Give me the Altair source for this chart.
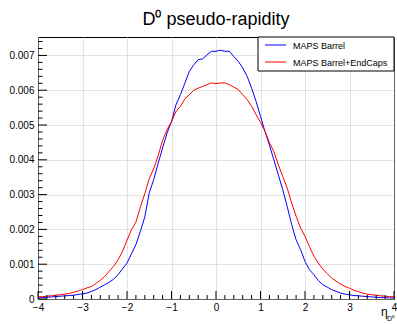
import altair as alt
import pandas as pd

# bin centres of the pseudo-rapidity histogram
eta = [round(-4 + 0.1 * i, 1) for i in range(81)]

barrel = [
    0.00003, 0.00004, 0.00005, 0.00006, 0.00007, 0.00008, 0.00009, 0.00010, 0.00011, 0.00013,
    0.00015, 0.00017, 0.00022, 0.00027, 0.00034, 0.00041, 0.00048, 0.00057, 0.00070, 0.00087,
    0.00103, 0.00130, 0.00156, 0.00194, 0.00236, 0.00305, 0.00343, 0.00390, 0.00434, 0.00477,
    0.00510, 0.00558, 0.00587, 0.00620, 0.00654, 0.00673, 0.00688, 0.00690, 0.00702, 0.00712,
    0.00712, 0.00715, 0.00712, 0.00712, 0.00697, 0.00683, 0.00664, 0.00640, 0.00606, 0.00568,
    0.00525, 0.00482, 0.00443, 0.00400, 0.00357, 0.00314, 0.00266, 0.00214, 0.00170, 0.00142,
    0.00108, 0.00084, 0.00070, 0.00053, 0.00041, 0.00034, 0.00027, 0.00022, 0.00017, 0.00014,
    0.00012, 0.00010, 0.00009, 0.00008, 0.00007, 0.00006, 0.00005, 0.00004, 0.00004, 0.00003,
    0.00003,
]

barrel_endcaps = [
    0.00006, 0.00007, 0.00008, 0.00009, 0.00011, 0.00012, 0.00014, 0.00016, 0.00019, 0.00023,
    0.00027, 0.00032, 0.00036, 0.00044, 0.00054, 0.00065, 0.00080, 0.00094, 0.00113, 0.00137,
    0.00169, 0.00199, 0.00221, 0.00264, 0.00303, 0.00346, 0.00374, 0.00412, 0.00456, 0.00487,
    0.00510, 0.00539, 0.00554, 0.00575, 0.00587, 0.00600, 0.00606, 0.00611, 0.00616, 0.00621,
    0.00619, 0.00621, 0.00621, 0.00616, 0.00609, 0.00602, 0.00587, 0.00573, 0.00554, 0.00530,
    0.00508, 0.00482, 0.00450, 0.00424, 0.00386, 0.00352, 0.00319, 0.00276, 0.00238, 0.00204,
    0.00180, 0.00151, 0.00123, 0.00103, 0.00086, 0.00073, 0.00060, 0.00051, 0.00043, 0.00036,
    0.00031, 0.00025, 0.00021, 0.00017, 0.00014, 0.00012, 0.00011, 0.00009, 0.00008, 0.00007,
    0.00006,
]

series_names = ["MAPS Barrel", "MAPS Barrel+EndCaps"]
series_colors = ["#0000ff", "#ff0000"]

x_major = [-4, -3, -2, -1, 0, 1, 2, 3, 4]
x_minor = [round(-4 + 0.2 * i, 1) for i in range(41) if i % 5 != 0]
y_major = [0, 0.001, 0.002, 0.003, 0.004, 0.005, 0.006, 0.007]
y_minor = [round(0.0002 * i, 4) for i in range(1, 38) if i % 5 != 0]

W, H = 356, 262
FONT = "Liberation Sans"

df = pd.DataFrame({
    "eta": eta * 2,
    "val": barrel + barrel_endcaps,
    "series": [series_names[0]] * len(eta) + [series_names[1]] * len(eta),
})

xs = alt.Scale(domain=[-4, 4], nice=False, zero=False)
ys = alt.Scale(domain=[0, 0.00753], nice=False, zero=False)

x_axis = alt.Axis(values=x_major, grid=True, ticks=False, tickSize=0, domain=False,
                  labelFlush=False, labelOverlap=False, labelPadding=3, labelFont=FONT,
                  labelFontSize=10, labelColor="#000", title=None, format="d")
y_axis = alt.Axis(values=y_major, grid=True, ticks=False, tickSize=0, domain=False,
                  labelOverlap=False, labelPadding=4, labelFont=FONT, labelFontSize=10,
                  labelColor="#000", title=None,
                  labelExpr="datum.value == 0 ? '0' : format(datum.value, '.3f')")

lines = alt.Chart(df).mark_line(strokeWidth=1, clip=True).encode(
    x=alt.X("eta:Q", scale=xs, axis=x_axis),
    y=alt.Y("val:Q", scale=ys, axis=y_axis),
    color=alt.Color("series:N", scale=alt.Scale(domain=series_names, range=series_colors),
                    legend=None),
)

xmaj = alt.Chart(pd.DataFrame({"t": x_major})).mark_rule(color="#000", strokeWidth=1).encode(
    x=alt.X("t:Q", scale=xs, axis=x_axis), y=alt.value(H), y2=alt.value(H - 8))
xmin = alt.Chart(pd.DataFrame({"t": x_minor})).mark_rule(color="#000", strokeWidth=1).encode(
    x=alt.X("t:Q", scale=xs, axis=x_axis), y=alt.value(H), y2=alt.value(H - 4))
ymaj = alt.Chart(pd.DataFrame({"t": y_major})).mark_rule(color="#000", strokeWidth=1).encode(
    y=alt.Y("t:Q", scale=ys, axis=y_axis), x=alt.value(0), x2=alt.value(9))
ymin = alt.Chart(pd.DataFrame({"t": y_minor})).mark_rule(color="#000", strokeWidth=1).encode(
    y=alt.Y("t:Q", scale=ys, axis=y_axis), x=alt.value(0), x2=alt.value(4.5))

# legend box
leg_box = alt.Chart(pd.DataFrame({"a": [0]})).mark_rect(
    fill="white", stroke="#000", strokeWidth=1).encode(
    x=alt.value(220), x2=alt.value(W), y=alt.value(0), y2=alt.value(34))
leg_line0 = alt.Chart(pd.DataFrame({"a": [0]})).mark_rule(color=series_colors[0], strokeWidth=1).encode(
    x=alt.value(227), x2=alt.value(248), y=alt.value(8))
leg_line1 = alt.Chart(pd.DataFrame({"a": [0]})).mark_rule(color=series_colors[1], strokeWidth=1).encode(
    x=alt.value(227), x2=alt.value(248), y=alt.value(25))
leg_text0 = alt.Chart(pd.DataFrame({"s": [series_names[0]]})).mark_text(
    font=FONT, fontSize=9, align="left", baseline="middle", color="#000").encode(
    x=alt.value(255), y=alt.value(8.5), text="s:N")
leg_text1 = alt.Chart(pd.DataFrame({"s": [series_names[1]]})).mark_text(
    font=FONT, fontSize=9, align="left", baseline="middle", color="#000").encode(
    x=alt.value(255), y=alt.value(25.5), text="s:N")

# x-axis title eta_{D0}
xt1 = alt.Chart(pd.DataFrame({"s": ["η"]})).mark_text(
    font=FONT, fontSize=12, align="left", baseline="alphabetic", color="#000").encode(
    x=alt.value(343), y=alt.value(279), text="s:N")
xt2 = alt.Chart(pd.DataFrame({"s": ["D⁰"]})).mark_text(
    font=FONT, fontSize=7, align="left", baseline="alphabetic", color="#000").encode(
    x=alt.value(349), y=alt.value(284), text="s:N")

chart = alt.layer(
    lines, xmaj, xmin, ymaj, ymin, leg_box, leg_line0, leg_line1, leg_text0, leg_text1, xt1, xt2
).properties(
    width=W, height=H,
    title=alt.TitleParams("D⁰ pseudo-rapidity", font=FONT, fontSize=18, fontWeight="normal",
                          anchor="middle", color="#000", offset=8),
).configure(
    autosize=alt.AutoSizeParams(type="none"),
    padding={"left": 38, "top": 37, "right": 3, "bottom": 25},
    background="white",
).configure_view(
    stroke="#000", strokeWidth=1,
).configure_axis(
    gridColor="#c8c8c8", gridDash=[1, 1], gridWidth=1,
)

chart.save("out.html", embed_options={"renderer": "svg", "actions": False})
